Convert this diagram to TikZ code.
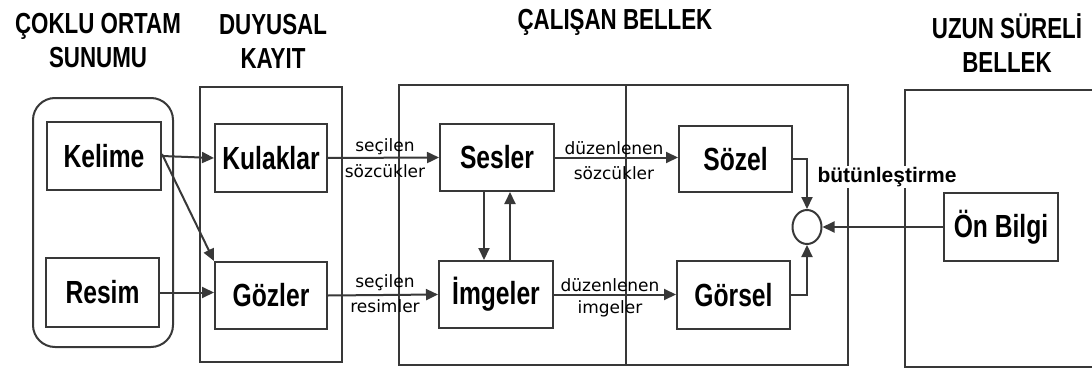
\documentclass[tikz,border=0pt]{standalone}
\usepackage{fontspec}
\setmainfont{Liberation Sans}
\newfontfamily\condfont[FakeStretch=0.77]{Liberation Sans}
\newfontfamily\lblfont{DejaVu Sans}
\usetikzlibrary{arrows.meta,shapes.geometric}
\definecolor{ln}{gray}{0.22}
\tikzset{
  ln/.style={draw=ln,line width=2pt},
  box/.style={ln,rectangle,inner sep=0pt,font=\condfont\bfseries\fontsize{32}{32}\selectfont,text=black},
  container/.style={ln,rectangle,inner sep=0pt},
  ttl/.style={font=\condfont\bfseries\fontsize{29}{34}\selectfont,align=center,inner sep=0pt},
  lbl/.style={font=\lblfont\fontsize{17}{17}\selectfont,inner sep=0pt},
  arr/.style={ln,-{Triangle[length=12pt,width=11pt]},fill=none},
}
\begin{document}
\begin{tikzpicture}[x=1pt,y=-1pt]
\useasboundingbox (0,0) rectangle (1092,369);
% titles
\node[ttl] (t1) at (98,41) {ÇOKLU ORTAM\\SUNUMU};
\node[ttl] (t2) at (273,41) {DUYUSAL\\KAYIT};
\node[ttl] (t3) at (615,22) {ÇALIŞAN BELLEK};
\node[ttl] (t4) at (1007,43) {UZUN SÜRELİ\\BELLEK};
% containers
\node[container,rounded corners=22pt,minimum width=140pt,minimum height=249pt] (c1) at (103,222.5) {};
\node[container,minimum width=142pt,minimum height=275pt] (c2) at (271,224.5) {};
\node[container,minimum width=449pt,minimum height=280pt] (c3) at (623.5,225) {};
\draw[ln] (c3.north -| 626,0) coordinate (d1) -- (c3.south -| 626,0) coordinate (d2);
\draw[ln] (1100,90) coordinate (u1) -- (905,90) coordinate (u2) -- (905,367) coordinate (u3) -- (1100,367) coordinate (u4);
% boxes
\node[box,minimum width=114pt,minimum height=68pt] (kelime) at (104,156) {Kelime};
\node[box,minimum width=113pt,minimum height=69pt] (resim) at (102.5,292.5) {Resim};
\node[box,minimum width=112pt,minimum height=68pt] (kulak) at (271,158) {Kulaklar};
\node[box,minimum width=112pt,minimum height=67pt] (goz) at (271,295.5) {Gözler};
\node[box,minimum width=114pt,minimum height=67pt] (ses) at (497,157.5) {Sesler};
\node[box,minimum width=114pt,minimum height=67pt] (imge) at (496,294.5) {İmgeler};
\node[box,minimum width=113pt,minimum height=66pt] (sozel) at (735.5,159) {Sözel};
\node[box,minimum width=113pt,minimum height=68pt] (gorsel) at (733.5,295) {Görsel};
\node[box,minimum width=114pt,minimum height=68pt] (onb) at (1001,227) {Ön Bilgi};
\node[ln,ellipse,inner sep=0pt,minimum width=29pt,minimum height=34pt] (circ) at (807,227) {};
% labels
\node[lbl] (l1) at (385,147) {seçilen};
\node[lbl] (l2) at (385,171) {sözcükler};
\node[lbl] (l3) at (385,283) {seçilen};
\node[lbl] (l4) at (385,306) {resimler};
\node[lbl] (l5) at (614,148) {düzenlenen};
\node[lbl] (l6) at (614,173) {sözcükler};
\node[lbl] (l7) at (610,285) {düzenlenen};
\node[lbl] (l8) at (610,309) {imgeler};
\node[font=\bfseries\fontsize{21}{21}\selectfont,inner sep=1pt,fill=white] (bt) at (887,177) {bütünleştirme};
% arrows
\draw[arr] (kelime.east) -- (kulak.west);
\draw[arr] (resim.east) -- (goz.west |- resim.east);
\draw[arr] ([yshift=2pt]kelime.east) -- (goz.north west);
\draw[arr] (kulak.east) -- (ses.west);
\draw[arr] (goz.east) -- (imge.west);
\draw[arr] ([xshift=-13pt]ses.south) -- ([xshift=-12pt]imge.north);
\draw[arr] ([xshift=14pt]imge.north) -- ([xshift=13pt]ses.south);
\draw[arr] (ses.east) -- (sozel.west |- ses.east);
\draw[arr] (imge.east) -- (gorsel.west |- imge.east);
\draw[arr] (sozel.east) -| (circ.north);
\draw[arr] (gorsel.east) -| (circ.south);
\draw[arr] (onb.west) -- (circ.east);
\end{tikzpicture}
\end{document}
